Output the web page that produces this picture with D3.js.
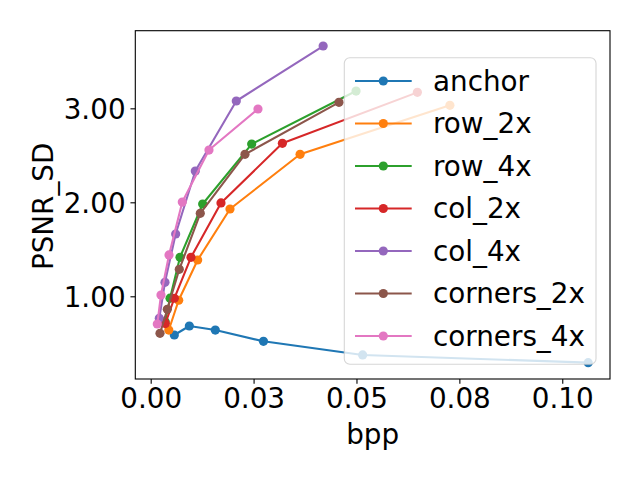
<!DOCTYPE html>
<html>
<head>
<meta charset="utf-8">
<script src="https://cdn.jsdelivr.net/npm/d3@7"></script>
<style>
  body { margin: 0; background: #fff; }
  text { font-family: "DejaVu Sans", sans-serif; }
</style>
</head>
<body>
<div id="chart"></div>
<script>
// series, in plotting order
let series_names = ["anchor", "row_2x", "row_4x", "col_2x", "col_4x", "corners_2x", "corners_4x"];
let series_colors = ["#1f77b4", "#ff7f0e", "#2ca02c", "#d62728", "#9467bd", "#8c564b", "#e377c2"];

let bpp_anchor = [0.00574, 0.00939, 0.0157, 0.0274, 0.0515, 0.1063];
let psnr_anchor = [0.588, 0.684, 0.641, 0.521, 0.376, 0.294];

let bpp_row_2x = [0.00440, 0.00680, 0.01141, 0.01927, 0.0363, 0.0727];
let psnr_row_2x = [0.641, 0.958, 1.386, 1.929, 2.511, 3.032];

let bpp_row_4x = [0.0035, 0.0047, 0.00712, 0.01263, 0.02454, 0.0499];
let psnr_row_4x = [0.73, 0.98, 1.415, 1.982, 2.620, 3.184];

let bpp_col_2x = [0.00355, 0.00574, 0.00979, 0.01708, 0.0320, 0.0648];
let psnr_col_2x = [0.710, 0.979, 1.415, 1.993, 2.628, 3.17];

let bpp_col_4x = [0.00209, 0.00347, 0.00607, 0.01084, 0.0208, 0.0419];
let psnr_col_4x = [0.766, 1.149, 1.663, 2.333, 3.078, 3.663];

let bpp_corners_2x = [0.00226, 0.00404, 0.00695, 0.01205, 0.02291, 0.04575];
let psnr_corners_2x = [0.606, 0.862, 1.287, 1.883, 2.511, 3.064];

let bpp_corners_4x = [0.0016, 0.0025, 0.00445, 0.00768, 0.01416, 0.02607];
let psnr_corners_4x = [0.705, 1.014, 1.44, 2.003, 2.556, 2.993];

let x_ticks = [0, 0.025, 0.05, 0.075, 0.1];
let x_tick_labels = ["0.00", "0.03", "0.05", "0.08", "0.10"];
let y_ticks = [1, 2, 3];
let y_tick_labels = ["1.00", "2.00", "3.00"];

let all_bpp = [bpp_anchor, bpp_row_2x, bpp_row_4x, bpp_col_2x, bpp_col_4x, bpp_corners_2x, bpp_corners_4x];
let all_psnr = [psnr_anchor, psnr_row_2x, psnr_row_4x, psnr_col_2x, psnr_col_4x, psnr_corners_2x, psnr_corners_4x];

let chart_width = 640;
let chart_height = 480;

let margin_top = 30.7;
let margin_left = 135.3;
let margin_right = 30;
let margin_bottom = 101;

let width = chart_width - margin_left - margin_right;
let height = chart_height - margin_top - margin_bottom;

let font_px = 27.8;
let marker_r = 4.6;

let svg_root = d3.select("#chart")
    .append("svg")
    .attr("width", chart_width)
    .attr("height", chart_height);

svg_root.append("rect")
    .attr("width", chart_width)
    .attr("height", chart_height)
    .attr("fill", "white");

let svg = svg_root.append("g")
    .attr("transform", "translate(" + margin_left + "," + margin_top + ")");

let xScale = d3.scaleLinear()
    .domain([-0.00374, 0.1116])
    .range([0, width]);

let yScale = d3.scaleLinear()
    .domain([0.12, 3.826])
    .range([height, 0]);

// series: line then markers, one after another like matplotlib
let line = d3.line()
    .x(function(d) { return xScale(d[0]); })
    .y(function(d) { return yScale(d[1]); });

for (let i = 0; i < series_names.length; i++) {
    let pts = all_bpp[i].map(function(b, j) { return [b, all_psnr[i][j]]; });
    let g = svg.append("g").attr("class", "series");
    g.append("path")
        .datum(pts)
        .attr("d", line)
        .attr("fill", "none")
        .attr("stroke", series_colors[i])
        .attr("stroke-width", 2.08)
        .attr("stroke-linejoin", "round");
    g.selectAll("circle")
        .data(pts)
        .enter()
        .append("circle")
        .attr("cx", function(d) { return xScale(d[0]); })
        .attr("cy", function(d) { return yScale(d[1]); })
        .attr("r", marker_r)
        .attr("fill", series_colors[i]);
}

// axes
let x_axis = svg.append("g")
    .attr("transform", "translate(0," + height + ")")
    .call(d3.axisBottom(xScale)
        .tickValues(x_ticks)
        .tickSizeInner(4.86)
        .tickSizeOuter(0)
        .tickPadding(4.86)
        .tickFormat(function(d, i) { return x_tick_labels[i]; }));

let y_axis = svg.append("g")
    .call(d3.axisLeft(yScale)
        .tickValues(y_ticks)
        .tickSizeInner(4.86)
        .tickSizeOuter(0)
        .tickPadding(4.86)
        .tickFormat(function(d, i) { return y_tick_labels[i]; }));

[x_axis, y_axis].forEach(function(ax) {
    ax.select(".domain").remove();
    ax.selectAll(".tick line").attr("stroke", "black").attr("stroke-width", 1.1);
    ax.selectAll(".tick text")
        .attr("fill", "black")
        .style("font-size", font_px + "px")
        .style("font-family", "DejaVu Sans");
});
x_axis.selectAll(".tick text").attr("dy", null).attr("y", 29.4);
y_axis.selectAll(".tick text").attr("dy", null).attr("y", 10);

// frame
svg.append("rect")
    .attr("width", width)
    .attr("height", height)
    .attr("fill", "none")
    .attr("stroke", "black")
    .attr("stroke-width", 1.1);

// axis labels
svg_root.append("text")
    .attr("x", margin_left + width / 2)
    .attr("y", 444)
    .attr("text-anchor", "middle")
    .style("font-size", font_px + "px")
    .text("bpp");

svg_root.append("text")
    .attr("transform", "translate(53.3," + (margin_top + height / 2 + 1.5) + ") rotate(-90)")
    .attr("text-anchor", "middle")
    .style("font-size", font_px + "px")
    .text("PSNR_SD");

// legend
let legend = svg_root.append("g").attr("class", "legend");
legend.append("rect")
    .attr("x", 344.3)
    .attr("y", 57.7)
    .attr("width", 251.7)
    .attr("height", 306.6)
    .attr("rx", 5.6)
    .attr("fill", "white")
    .attr("fill-opacity", 0.8)
    .attr("stroke", "#cccccc")
    .attr("stroke-opacity", 0.8)
    .attr("stroke-width", 1.1);

let legend_row_y = d3.scaleLinear().domain([0, 6]).range([81, 336]);
let legend_items = legend.selectAll(".legend_item")
    .data(series_names)
    .enter()
    .append("g")
    .attr("class", "legend_item")
    .attr("transform", function(d, i) { return "translate(0," + legend_row_y(i) + ")"; });

legend_items.append("line")
    .attr("x1", 355).attr("x2", 411.7)
    .attr("y1", 0).attr("y2", 0)
    .attr("stroke", function(d, i) { return series_colors[i]; })
    .attr("stroke-width", 2.08);
legend_items.append("circle")
    .attr("cx", 383.3).attr("cy", 0)
    .attr("r", marker_r)
    .attr("fill", function(d, i) { return series_colors[i]; });
legend_items.append("text")
    .attr("x", 433)
    .attr("y", 9.5)
    .style("font-size", font_px + "px")
    .text(function(d) { return d; });
</script>
</body>
</html>
